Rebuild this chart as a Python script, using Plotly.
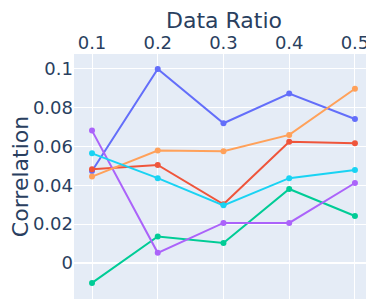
import plotly.graph_objects as go

x_ratio = [0.1, 0.2, 0.3, 0.4, 0.5]
series_a = [0.0474, 0.1000, 0.0720, 0.0873, 0.0742]
series_b = [0.0483, 0.0505, 0.0302, 0.0625, 0.0617]
series_c = [-0.0103, 0.0136, 0.0103, 0.0381, 0.0242]
series_d = [0.0682, 0.0052, 0.0206, 0.0206, 0.0412]
series_e = [0.0445, 0.0579, 0.0576, 0.0660, 0.0898]
series_f = [0.0565, 0.0437, 0.0297, 0.0437, 0.0479]

fig = go.Figure()
for name, ys in [("a", series_a), ("b", series_b), ("c", series_c),
                 ("d", series_d), ("e", series_e), ("f", series_f)]:
    fig.add_trace(go.Scatter(x=x_ratio, y=ys, mode="lines+markers", name=name))

fig.update_layout(
    width=366, height=291,
    margin=dict(l=66, r=0, t=46, b=0),
    showlegend=False,
    font=dict(family="DejaVu Sans", size=18, color="#2a3f5f"),
    template="plotly",
)
fig.update_xaxes(side="top", title_text="Data Ratio", title_font_size=22,
                 automargin=False,
                 range=[0.0726, 0.529], tickvals=x_ratio,
                 ticktext=["0.1", "0.2", "0.3", "0.4", "0.5"])
fig.update_yaxes(title_text="Correlation", title_font_size=22,
                 automargin=False,
                 range=[-0.0186, 0.1077], tickvals=[0, 0.02, 0.04, 0.06, 0.08, 0.1],
                 ticktext=["0", "0.02", "0.04", "0.06", "0.08", "0.1"])

fig.write_html("out.html")
